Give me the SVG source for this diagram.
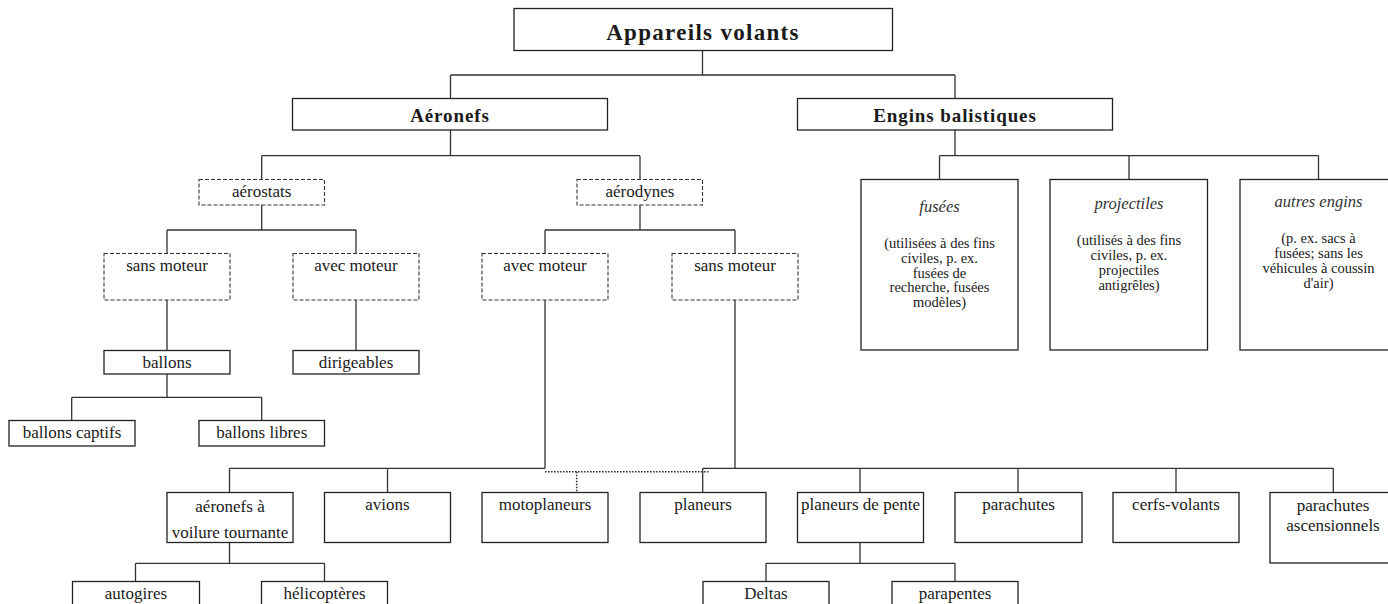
<svg xmlns="http://www.w3.org/2000/svg" width="1388" height="604" viewBox="0 0 1388 604">
<style>
.b{fill:#fff;stroke:#222;stroke-width:1.3}
.d{fill:#fff;stroke:#333;stroke-width:1.1;stroke-dasharray:4 2}
.c{fill:none;stroke:#333;stroke-width:1.3}
.dot{fill:none;stroke:#333;stroke-width:1.6;stroke-dasharray:1.6 1.4}
text{font-family:"Liberation Serif","Times New Roman",serif;fill:#1a1a1a;text-anchor:middle}
.t{font-size:17px}
.h{font-size:19px;font-weight:bold;letter-spacing:0.9px}
.h0{font-size:23px;font-weight:bold;letter-spacing:1.3px}
.i{font-size:16.5px;font-style:italic;fill:#333}
.s{font-size:14.5px}
</style>
<rect width="1388" height="604" fill="#fff"/>
<g id="connectors">
<path class="c" d="M702.5 50.5V75M450.5 75H955M450.5 75V98.5M955 75V98.5"/>
<path class="c" d="M450.5 130V155.7M261.7 155.7H640M261.7 155.7V179.5M640 155.7V179.5"/>
<path class="c" d="M955 130V155.7M939.5 155.7H1318.5M939.5 155.7V179.5M1129 155.7V179.5M1318.5 155.7V179.5"/>
<path class="c" d="M261.7 205V230M167 230H356M167 230V253.5M356 230V253.5"/>
<path class="c" d="M167 300V350.5M356 300V350.5"/>
<path class="c" d="M167 374V397.3M71.7 397.3H261.7M71.7 397.3V420.5M261.7 397.3V420.5"/>
<path class="c" d="M640 205V230M545 230H735M545 230V253.5M735 230V253.5"/>
<path class="c" d="M545 300V468.3M735 300V468.3"/>
<path class="c" d="M229.5 468.3H545M229.5 468.3V492.5M387.5 468.3V492.5"/>
<path class="c" d="M702.7 468.3H1333.3M702.7 468.3V492.5M860 468.3V492.5M1018 468.3V492.5M1176 468.3V492.5M1333.3 468.3V492.5"/>
<path class="dot" d="M545 471.7H708.5M576.7 471.7V492.5"/>
<path class="c" d="M229.5 542.5V563.3M135.5 563.3H324.5M135.5 563.3V581.5M324.5 563.3V581.5"/>
<path class="c" d="M860 542.5V563.3M766 563.3H955M766 563.3V581.5M955 563.3V581.5"/>
</g>
<g id="appareils-volants"><rect class="b" x="514" y="8.5" width="378.5" height="42"/><text class="h0" x="703" y="40">Appareils volants</text></g>
<g id="aeronefs"><rect class="b" x="292.5" y="98.5" width="315" height="31.5"/><text class="h" x="450" y="121.5">Aéronefs</text></g>
<g id="engins-balistiques"><rect class="b" x="797.5" y="98.5" width="315" height="31.5"/><text class="h" x="955" y="121.5">Engins balistiques</text></g>
<g id="aerostats"><rect class="d" x="199" y="179.5" width="125.5" height="25.5"/><text class="t" x="261.7" y="196.5">aérostats</text></g>
<g id="aerodynes"><rect class="d" x="577" y="179.5" width="125.5" height="25.5"/><text class="t" x="640" y="196.5">aérodynes</text></g>
<g id="aerostats-sans-moteur"><rect class="d" x="104" y="253.5" width="126" height="46.5"/><text class="t" x="167" y="270.5">sans moteur</text></g>
<g id="aerostats-avec-moteur"><rect class="d" x="293" y="253.5" width="126" height="46.5"/><text class="t" x="356" y="270.5">avec moteur</text></g>
<g id="aerodynes-avec-moteur"><rect class="d" x="482" y="253.5" width="126" height="46.5"/><text class="t" x="545" y="270.5">avec moteur</text></g>
<g id="aerodynes-sans-moteur"><rect class="d" x="672" y="253.5" width="126" height="46.5"/><text class="t" x="735" y="270.5">sans moteur</text></g>
<g id="ballons"><rect class="b" x="104" y="350.5" width="126" height="23.5"/><text class="t" x="167" y="367.5">ballons</text></g>
<g id="dirigeables"><rect class="b" x="293" y="350.5" width="126" height="23.5"/><text class="t" x="356" y="367.5">dirigeables</text></g>
<g id="ballons-captifs"><rect class="b" x="9" y="420.5" width="126" height="25.5"/><text class="t" x="72" y="438">ballons captifs</text></g>
<g id="ballons-libres"><rect class="b" x="199" y="420.5" width="125.5" height="25.5"/><text class="t" x="261.7" y="438">ballons libres</text></g>
<g id="fusees"><rect class="b" x="861" y="179.5" width="157" height="170.5"/><text class="i" x="939.5" y="212">fusées</text>
<text class="s" x="939.5" y="248">(utilisées à des fins</text><text class="s" x="939.5" y="262.8">civiles, p. ex.</text><text class="s" x="939.5" y="277.6">fusées de</text><text class="s" x="939.5" y="292.4">recherche, fusées</text><text class="s" x="939.5" y="307.2">modèles)</text></g>
<g id="projectiles"><rect class="b" x="1050" y="179.5" width="157.5" height="170.5"/><text class="i" x="1129" y="209">projectiles</text>
<text class="s" x="1129" y="245">(utilisés à des fins</text><text class="s" x="1129" y="260">civiles, p. ex.</text><text class="s" x="1129" y="275">projectiles</text><text class="s" x="1129" y="290">antigrêles)</text></g>
<g id="autres-engins"><rect class="b" x="1240" y="179.5" width="157" height="170.5"/><text class="i" x="1318.5" y="207">autres engins</text>
<text class="s" x="1318.5" y="242.5">(p. ex. sacs à</text><text class="s" x="1318.5" y="258">fusées; sans les</text><text class="s" x="1318.5" y="273">véhicules à coussin</text><text class="s" x="1318.5" y="288">d'air)</text></g>
<g id="voilure-tournante"><rect class="b" x="167" y="492.5" width="126" height="50"/><text class="t" x="230" y="511.5">aéronefs à</text><text class="t" x="230" y="538">voilure tournante</text></g>
<g id="avions"><rect class="b" x="324.5" y="492.5" width="126" height="50"/><text class="t" x="387.5" y="509.5">avions</text></g>
<g id="motoplaneurs"><rect class="b" x="482" y="492.5" width="126" height="50"/><text class="t" x="545" y="509.5">motoplaneurs</text></g>
<g id="planeurs"><rect class="b" x="640" y="492.5" width="126" height="50"/><text class="t" x="703" y="509.5">planeurs</text></g>
<g id="planeurs-de-pente"><rect class="b" x="797.5" y="492.5" width="126" height="50"/><text class="t" x="860.5" y="509.5">planeurs de pente</text></g>
<g id="parachutes"><rect class="b" x="955" y="492.5" width="127" height="50"/><text class="t" x="1018.5" y="509.5">parachutes</text></g>
<g id="cerfs-volants"><rect class="b" x="1113" y="492.5" width="126" height="50"/><text class="t" x="1176" y="509.5">cerfs-volants</text></g>
<g id="parachutes-ascensionnels"><rect class="b" x="1270" y="492.5" width="126" height="70.5"/><text class="t" x="1333" y="511">parachutes</text><text class="t" x="1333" y="531">ascensionnels</text></g>
<g id="autogires"><rect class="b" x="72.5" y="581.5" width="127" height="40"/><text class="t" x="136" y="598.5">autogires</text></g>
<g id="helicopteres"><rect class="b" x="261.5" y="581.5" width="126" height="40"/><text class="t" x="324.5" y="598.5">hélicoptères</text></g>
<g id="deltas"><rect class="b" x="703" y="581.5" width="126" height="40"/><text class="t" x="766" y="598.5">Deltas</text></g>
<g id="parapentes"><rect class="b" x="892" y="581.5" width="126" height="40"/><text class="t" x="955" y="598.5">parapentes</text></g>
</svg>
